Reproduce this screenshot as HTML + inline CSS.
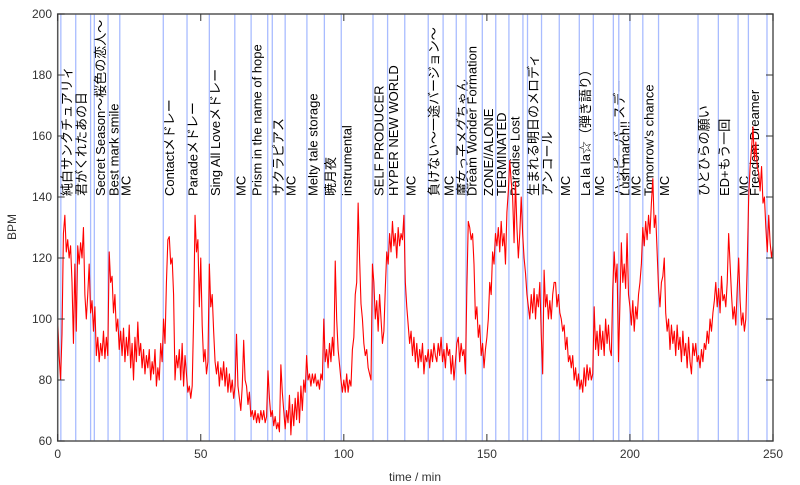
<!DOCTYPE html>
<html><head><meta charset="utf-8"><style>
html,body{margin:0;padding:0;background:#fff;width:800px;height:485px;overflow:hidden}
svg text{font-family:"Liberation Sans","Noto Sans CJK JP",sans-serif;}
</style></head><body>
<svg id="chart" width="800" height="485" xmlns="http://www.w3.org/2000/svg">
<g id="markers"></g>
<g id="series"></g>
<g id="axes"></g>
<text x="16" y="227" font-size="12" fill="#333" text-anchor="middle" transform="rotate(-90 16 227)">BPM</text>
<text x="415" y="481" font-size="12" fill="#333" text-anchor="middle">time / min</text>
</svg>
<script>
const xTicks = [0, 50, 100, 150, 200, 250];
const yTicks = [60, 80, 100, 120, 140, 160, 180, 200];
const timeStart = 0;
const timeStep = 0.5;
const bpm = [
100,88,80,95,128,134,122,126,120,124,112,92,118,96,124,118,125,120,130,108,
100,108,118,102,106,96,104,88,94,86,92,88,96,87,94,88,122,112,114,102,
108,96,100,90,96,88,97,86,94,88,98,84,92,80,94,86,99,88,92,84,
90,82,88,84,90,80,86,82,90,78,84,80,92,86,100,92,112,126,127,118,
120,108,80,88,84,90,80,92,78,88,82,76,78,74,78,100,134,122,126,104,
120,98,86,90,82,86,118,104,108,96,86,82,86,78,84,80,86,78,84,76,
82,76,80,74,78,95,78,74,70,78,93,80,78,72,76,68,70,67,70,66,
69,66,70,67,70,66,68,83,74,68,70,65,68,64,66,63,85,76,70,64,
70,66,75,62,72,65,74,67,76,66,78,70,80,76,88,80,82,78,82,79,
82,78,80,77,82,80,100,86,90,84,92,86,94,88,119,100,90,85,80,76,
80,76,82,76,80,78,90,94,108,112,138,120,105,100,92,88,90,84,82,80,
118,112,100,106,96,108,100,92,96,110,122,118,128,122,132,124,128,120,130,124,
128,126,134,112,104,98,92,96,88,94,86,92,84,90,86,92,82,88,86,90,
84,90,86,92,88,86,92,88,94,86,90,84,92,88,90,82,88,80,86,92,
94,86,92,88,90,82,110,132,130,126,128,118,100,104,94,98,88,92,84,90,
94,100,112,108,122,118,128,124,130,122,132,124,128,118,135,142,152,145,140,125,
145,130,120,128,140,128,120,115,108,104,100,108,102,110,100,108,104,112,95,82,
116,104,108,100,106,100,108,112,112,104,108,102,100,96,98,90,94,86,88,84,
88,80,84,78,82,77,80,76,84,78,85,80,84,80,82,104,90,96,88,98,
90,96,88,100,92,98,90,88,110,122,112,118,86,105,125,112,118,110,128,108,
104,98,106,96,104,100,108,112,118,130,124,132,126,134,128,138,146,130,134,122,
110,104,112,114,120,102,96,100,90,98,92,96,88,98,90,94,86,96,88,92,
84,94,86,82,92,88,92,86,88,84,90,86,92,90,96,92,100,96,102,106,
112,104,110,102,114,106,108,104,112,128,118,108,100,104,98,110,120,106,98,102,
96,100,118,140,150,156,163,152,158,150,148,142,150,138,140,130,122,134,125,120,
124];
const markerTimes = [0,1.1,6.3,11.5,12.8,17.6,21.7,36.9,45.2,53.0,61.9,67.6,73.4,75.0,79.5,87.1,93.2,99.1,110.2,115.3,121.3,129.5,134.7,139.3,142.7,148.4,153.1,157.7,162.6,164.2,169.1,175.3,182.3,187.2,194.2,196.1,200.0,204.5,210.0,223.8,230.9,237.8,241.4,247.9];
const markerLabels = ["","純白サンクチュアリィ","君がくれたあの日","","Secret Season〜桜色の恋人〜","Best mark smile","MC","Contactメドレー","Paradeメドレー","Sing All Loveメドレー","MC","Prism in the name of hope","","サクラピアス","MC","Melty tale storage","暁月夜","instrumental","SELF PRODUCER","HYPER NEW WORLD","MC","負けない〜一途バージョン〜","MC","魔女っ子メグちゃん","Dream Wonder Formation","ZONE//ALONE","TERMINATED","Paradise Lost","","生まれる明日のメロディ","アンコール","MC","La la la☆（弾き語り）","MC","ハッピーバースデー","Lush march!!","MC","Tomorrow's chance","MC","ひとひらの願い","ED+もう一回","MC","Freedom Dreamer",""];

const X0=57.7, X1=773, Y0=441, Y1=14;
const xScale = t => X0 + (t-0)/(250-0)*(X1-X0);
const yScale = v => Y0 - (v-60)/(200-60)*(Y0-Y1);
const NS="http://www.w3.org/2000/svg";
function mk(tag, attrs, parent){const e=document.createElementNS(NS,tag);for(const k in attrs)e.setAttribute(k,attrs[k]);parent.appendChild(e);return e;}

const gM=document.getElementById('markers');
markerTimes.forEach((t,i)=>{
  const x=xScale(t);
  const ln=mk('line',{x1:x,x2:x,y1:Y1,y2:Y0,stroke:'#a9bcff','stroke-width':1.3},gM);
  
  
  if(markerLabels[i]){
    const tx=mk('text',{x:0,y:0,'font-size':13,fill:'#000',transform:`translate(${x+10.5},196) rotate(-90)`},gM);
    tx.textContent=markerLabels[i];
    
    
  }
});

const gS=document.getElementById('series');
let d='';
bpm.forEach((v,i)=>{const t=timeStart+i*timeStep;d+=(i?'L':'M')+xScale(t).toFixed(2)+' '+yScale(v).toFixed(2);});
const path=mk('path',{d:d,fill:'none',stroke:'#ff0000','stroke-width':1.1,'stroke-linejoin':'round'},gS);



const gA=document.getElementById('axes');
const frame=mk('rect',{x:X0,y:Y1,width:X1-X0,height:Y0-Y1,fill:'none',stroke:'#555','stroke-width':1.5},gA);


xTicks.forEach(v=>{
  const x=xScale(v);
  mk('line',{x1:x,x2:x,y1:Y0,y2:Y0-7,stroke:'#333','stroke-width':1},gA);
  mk('line',{x1:x,x2:x,y1:Y1,y2:Y1+7,stroke:'#333','stroke-width':1},gA);
  const tx=mk('text',{x:x,y:458,'font-size':12,fill:'#333','text-anchor':'middle'},gA);
  tx.textContent=v;
  
  
});
yTicks.forEach(v=>{
  const y=yScale(v);
  mk('line',{x1:X0,x2:X0+7,y1:y,y2:y,stroke:'#333','stroke-width':1},gA);
  mk('line',{x1:X1,x2:X1-7,y1:y,y2:y,stroke:'#333','stroke-width':1},gA);
  const tx=mk('text',{x:52,y:y+4,'font-size':12,fill:'#333','text-anchor':'end'},gA);
  tx.textContent=v;
  
  
});
</script>
</body></html>
